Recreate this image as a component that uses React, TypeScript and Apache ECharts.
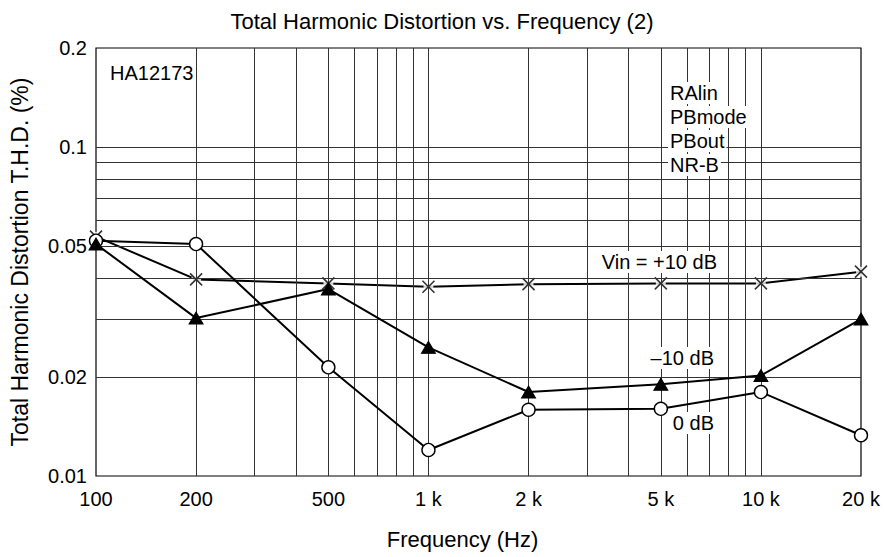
import React, { useEffect, useRef } from "react";
import * as echarts from "echarts";

// ---- data ----
const freqs = [100, 200, 500, 1000, 2000, 5000, 10000, 20000];
const thdPlus10 = [0.0534, 0.0396, 0.0385, 0.0376, 0.0383, 0.0385, 0.0385, 0.0418];
const thdMinus10 = [0.0507, 0.0302, 0.037, 0.0246, 0.018, 0.019, 0.0202, 0.03];
const thd0 = [0.0519, 0.0507, 0.0214, 0.012, 0.0159, 0.016, 0.018, 0.0133];

const xGridValues = [200, 300, 400, 500, 600, 700, 800, 900, 1000, 2000, 3000, 4000, 5000, 6000, 7000, 8000, 9000, 10000];
const yGridValues = [0.02, 0.03, 0.04, 0.05, 0.06, 0.07, 0.08, 0.09, 0.1];
const xTickValues = [100, 200, 500, 1000, 2000, 5000, 10000, 20000];
const xTickLabels = ["100", "200", "500", "1 k", "2 k", "5 k", "10 k", "20 k"];
const yTickValues = [0.01, 0.02, 0.05, 0.1, 0.2];
const yTickLabels = ["0.01", "0.02", "0.05", "0.1", "0.2"];

const FONT = "'Liberation Sans', Arial, Helvetica, sans-serif";

function pairs(ys: number[]) {
  return freqs.map((f, i) => [f, ys[i]]);
}

export default function App() {
  const ref = useRef<HTMLDivElement>(null);
  useEffect(() => {
    if (!ref.current) return;
    const chart = echarts.init(ref.current, null, { renderer: "svg" });

    const tickLabelStyle = { color: "#000", fontSize: 20, fontFamily: FONT, opacity: 1 };
    const hiddenLine = { color: "rgba(0,0,0,0)", width: 0, opacity: 1 };

    const markData: any[] = [
      ...xGridValues.map((v) => ({ xAxis: v, label: { show: false } })),
      ...yGridValues.map((v) => ({ yAxis: v, label: { show: false } })),
      ...xTickValues.map((v, i) => ({
        xAxis: v,
        lineStyle: hiddenLine,
        label: { show: true, position: "start", distance: 13, formatter: xTickLabels[i], ...tickLabelStyle },
      })),
      ...yTickValues.map((v, i) => ({
        yAxis: v,
        lineStyle: hiddenLine,
        label: { show: true, position: "start", distance: 9, formatter: yTickLabels[i], ...tickLabelStyle },
      })),
    ];

    const annText = (text: string, x: number, y: number, align: string) => ({
      type: "text",
      x,
      y,
      z: 10,
      style: {
        text,
        fill: "#000",
        font: `20px ${FONT}`,
        align,
        verticalAlign: "middle",
        backgroundColor: "#fff",
        padding: [1, 2],
      },
    });

    chart.setOption({
      animation: false,
      backgroundColor: "#fff",
      title: {
        text: "Total Harmonic Distortion vs. Frequency (2)",
        left: "center",
        top: 5,
        textStyle: { color: "#000", fontSize: 22, fontWeight: "normal", fontFamily: FONT },
      },
      grid: {
        left: 96,
        right: 23,
        top: 48,
        bottom: 81,
        show: true,
        borderColor: "#000",
        borderWidth: 1.2,
        backgroundColor: "transparent",
      },
      xAxis: {
        type: "log",
        logBase: 10,
        min: 100,
        max: 20000,
        name: "Frequency (Hz)",
        nameLocation: "middle",
        nameGap: 52,
        nameTextStyle: { color: "#000", fontSize: 22, fontFamily: FONT, padding: [0, 32, 0, 0] },
        axisLine: { show: false },
        axisTick: { show: false },
        axisLabel: { show: false },
        splitLine: { show: false },
      },
      yAxis: {
        type: "log",
        logBase: 10,
        min: 0.01,
        max: 0.2,
        name: "Total Harmonic Distortion T.H.D. (%)",
        nameLocation: "middle",
        nameGap: 65,
        nameTextStyle: { color: "#000", fontSize: 23, fontFamily: FONT },
        axisLine: { show: false },
        axisTick: { show: false },
        axisLabel: { show: false },
        splitLine: { show: false },
      },
      graphic: [
        annText("HA12173", 108, 73, "left"),
        annText("RAlin", 668, 93, "left"),
        annText("PBmode", 668, 117, "left"),
        annText("PBout", 668, 141, "left"),
        annText("NR-B", 668, 165, "left"),
        annText("Vin = +10 dB", 719, 262, "right"),
        annText("\u201310 dB", 716, 358, "right"),
        annText("0 dB", 716, 423, "right"),
      ],
      series: [
        {
          type: "line",
          name: "grid",
          data: [],
          z: 1,
          silent: true,
          markLine: {
            silent: true,
            symbol: ["none", "none"],
            lineStyle: { color: "#333", width: 1, type: "solid" },
            label: { show: false },
            emphasis: { disabled: true },
            data: markData,
          },
        },
        {
          type: "line",
          name: "Vin = +10 dB",
          data: pairs(thdPlus10),
          symbol: "none",
          lineStyle: { color: "#000", width: 2 },
          z: 3,
          silent: true,
        },
        {
          type: "scatter",
          name: "halo",
          data: pairs(thdPlus10),
          symbol: "circle",
          symbolSize: 10,
          itemStyle: { color: "#fff" },
          z: 4,
          silent: true,
        },
        {
          type: "scatter",
          name: "Vin = +10 dB marks",
          data: pairs(thdPlus10),
          symbol: "path://M0,0L10,10M10,0L0,10",
          symbolSize: 12,
          itemStyle: { color: "none", borderColor: "#000", borderWidth: 1.6 },
          z: 4,
          silent: true,
        },
        {
          type: "line",
          name: "0 dB",
          data: pairs(thd0),
          symbol: "circle",
          symbolSize: 13,
          itemStyle: { color: "#fff", borderColor: "#000", borderWidth: 1.4 },
          lineStyle: { color: "#000", width: 2 },
          z: 5,
          silent: true,
        },
        {
          type: "line",
          name: "-10 dB",
          data: pairs(thdMinus10),
          symbol: "triangle",
          symbolSize: [14, 12],
          itemStyle: { color: "#000", borderColor: "#000", borderWidth: 1 },
          lineStyle: { color: "#000", width: 2 },
          z: 6,
          silent: true,
        },
      ],
    });
    return () => chart.dispose();
  }, []);
  return (
    <div
      ref={ref}
      style={{ position: "fixed", left: 0, top: 0, width: 884, height: 557, background: "#fff" }}
    />
  );
}
